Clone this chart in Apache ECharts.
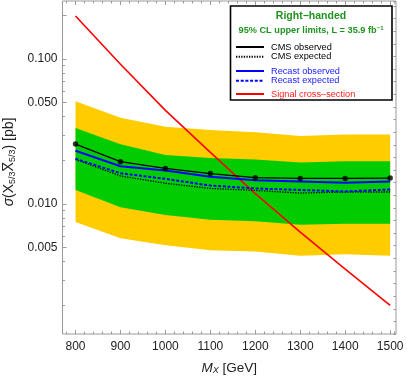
<!DOCTYPE html>
<html>
<head>
<meta charset="utf-8">
<script src="https://cdn.jsdelivr.net/npm/echarts@6/dist/echarts.min.js"></script>
<style>html,body{margin:0;padding:0;background:#fff}#c{width:407px;height:377px}</style>
</head>
<body>
<div id="c"></div>
<script>
// ---- data ----
const mass = [800, 900, 1000, 1100, 1200, 1300, 1400, 1500];
const cmsObserved = [0.0259, 0.0196, 0.0176, 0.0162, 0.0152, 0.0150, 0.0150, 0.0151];
const cmsExpected = [0.0203, 0.0156, 0.0139, 0.0128, 0.0124, 0.0119, 0.0121, 0.0121];
const recastObserved = [0.0233, 0.0182, 0.0170, 0.0154, 0.0146, 0.0143, 0.0140, 0.0143];
const recastExpected = [0.0205, 0.0163, 0.0149, 0.0134, 0.0128, 0.0125, 0.0122, 0.0126];
const yellowUp = [0.0511, 0.0394, 0.0341, 0.0324, 0.0312, 0.0294, 0.0301, 0.0301];
const greenUp = [0.0334, 0.0258, 0.0218, 0.0208, 0.0203, 0.0193, 0.0197, 0.0197];
const greenLow = [0.0125, 0.0095, 0.0084, 0.0078, 0.0076, 0.0072, 0.0073, 0.0073];
const yellowLow = [0.0075, 0.0058, 0.0052, 0.0048, 0.0047, 0.0044, 0.0045, 0.0044];
const signal = [0.198, 0.092, 0.0442, 0.0227, 0.0118, 0.0064, 0.00355, 0.00200];

const xTickLabels = [800, 900, 1000, 1100, 1200, 1300, 1400, 1500];
const xMinorTicks = [780, 820, 840, 860, 880, 920, 940, 960, 980, 1020, 1040, 1060, 1080, 1120, 1140, 1160, 1180,
  1220, 1240, 1260, 1280, 1320, 1340, 1360, 1380, 1420, 1440, 1460, 1480, 1510];
const yTickLabels = [0.005, 0.01, 0.05, 0.1];
const yMajorTicks = [0.005, 0.01, 0.05, 0.1, 0.2];
const yMinorTicks = [0.002, 0.003, 0.004, 0.006, 0.007, 0.008, 0.009, 0.02, 0.03, 0.04, 0.06, 0.07, 0.08, 0.09];

const X_MIN = 771, X_MAX = 1513;
const Y_MIN = 0.001269, Y_MAX = 0.2512;

const pairs = (ys) => mass.map((m, i) => [m, ys[i]]);

const axisGray = '#9a9a9a';
const FONT = 'Liberation Sans';

const chart = echarts.init(document.getElementById('c'), null, {renderer: 'canvas'});

// band drawn as one polygon through the chart's own coordinate system
function bandSeries(name, low, up, color, z) {
  return {
    name: name, type: 'custom', z: z, silent: true,
    data: mass.map((m, i) => [m, low[i], up[i]]),
    encode: {x: 0, y: [1, 2]},
    renderItem: function (params, api) {
      if (params.dataIndex !== 0) return null;
      const pts = [];
      for (let i = 0; i < mass.length; i++) pts.push(api.coord([mass[i], up[i]]));
      for (let i = mass.length - 1; i >= 0; i--) pts.push(api.coord([mass[i], low[i]]));
      return {type: 'polygon', shape: {points: pts}, style: {fill: color, stroke: null}};
    }
  };
}

const legendBase = {orient: 'vertical', itemWidth: 28, itemHeight: 10, itemGap: 0.8, padding: 0,
  selectedMode: false, z: 20, itemStyle: {opacity: 0, borderWidth: 0}};

const option = {
  animation: false,
  textStyle: {fontFamily: FONT},
  grid: {left: 62.5, right: 11, top: 1, bottom: 43, show: true, borderColor: axisGray, borderWidth: 1,
    backgroundColor: 'transparent', containLabel: false, outerBoundsMode: 'none'},
  xAxis: [
    {type: 'value', min: X_MIN, max: X_MAX, position: 'bottom',
      axisLine: {show: false}, splitLine: {show: false},
      axisTick: {inside: true, length: 4, lineStyle: {color: axisGray}, customValues: xTickLabels},
      axisLabel: {customValues: xTickLabels, margin: 7, fontSize: 12, color: '#222', fontFamily: FONT,
        formatter: (v) => String(v)},
      name: '{i|M}{s|X} [GeV]', nameLocation: 'middle', nameGap: 27,
      nameTextStyle: {fontSize: 13.5, color: '#222', fontFamily: FONT,
        rich: {i: {fontStyle: 'italic', fontSize: 13.5, fontFamily: FONT, color: '#222'},
               s: {fontStyle: 'italic', fontSize: 9, fontFamily: FONT, color: '#222', verticalAlign: 'bottom', lineHeight: 9}}}},
    {type: 'value', min: X_MIN, max: X_MAX, position: 'bottom', axisLine: {show: false}, splitLine: {show: false},
      axisLabel: {show: false},
      axisTick: {inside: true, length: 2.5, lineStyle: {color: axisGray}, customValues: xMinorTicks}},
    {type: 'value', min: X_MIN, max: X_MAX, position: 'top', axisLine: {show: false}, splitLine: {show: false},
      axisLabel: {show: false},
      axisTick: {inside: true, length: 4, lineStyle: {color: axisGray}, customValues: xTickLabels}},
    {type: 'value', min: X_MIN, max: X_MAX, position: 'top', axisLine: {show: false}, splitLine: {show: false},
      axisLabel: {show: false},
      axisTick: {inside: true, length: 2.5, lineStyle: {color: axisGray}, customValues: xMinorTicks}}
  ],
  yAxis: [
    {type: 'log', logBase: 10, min: Y_MIN, max: Y_MAX, position: 'left',
      axisLine: {show: false}, splitLine: {show: false},
      axisTick: {inside: true, length: 4, lineStyle: {color: axisGray}, customValues: yMajorTicks},
      axisLabel: {customValues: yTickLabels, margin: 5, fontSize: 12, color: '#222', fontFamily: FONT,
        formatter: (v) => Number(v).toFixed(3)},
      name: '{i|σ}(X{s|5/3}X\u0305{s|5/3}) [pb]', nameLocation: 'middle', nameGap: 41, nameRotate: 90,
      nameTextStyle: {fontSize: 14, color: '#222', fontFamily: FONT, padding: [0, 0, 0, 11],
        rich: {i: {fontStyle: 'italic', fontSize: 14, fontFamily: FONT, color: '#222'},
               s: {fontSize: 9, fontFamily: FONT, color: '#222', verticalAlign: 'bottom', lineHeight: 9}}}},
    {type: 'log', logBase: 10, min: Y_MIN, max: Y_MAX, position: 'left',
      axisLine: {show: false}, splitLine: {show: false}, axisLabel: {show: false},
      axisTick: {inside: true, length: 2.5, lineStyle: {color: axisGray}, customValues: yMinorTicks}},
    {type: 'value', min: 0, max: 26.4, interval: 1, position: 'right',
      axisLine: {show: false}, splitLine: {show: false}, axisLabel: {show: false},
      axisTick: {inside: true, length: 2.5, lineStyle: {color: axisGray}}}
  ],
  legend: [
    Object.assign({}, legendBase, {left: 235, top: 42.5,
      textStyle: {fontSize: 9.2, color: '#000', fontFamily: FONT, padding: [0, 0, 0, 2]},
      data: ['CMS observed', 'CMS expected']}),
    Object.assign({}, legendBase, {left: 235, top: 66.5,
      textStyle: {fontSize: 9.2, color: '#2020ff', fontFamily: FONT, padding: [0, 0, 0, 2]},
      data: ['Recast observed', 'Recast expected']}),
    Object.assign({}, legendBase, {left: 235, top: 89.5,
      textStyle: {fontSize: 9.2, color: '#ff2020', fontFamily: FONT, padding: [0, 0, 0, 2]},
      data: ['Signal cross\u2013section']})
  ],
  graphic: [
    {type: 'rect', shape: {x: 230.5, y: 6, width: 161.5, height: 94}, z: 10,
      style: {fill: '#fff', stroke: '#000', lineWidth: 1.6}},
    {type: 'text', x: 311, y: 16, z: 11,
      style: {text: 'Right\u2212handed', align: 'center', verticalAlign: 'middle',
        font: 'bold 10.5px "Liberation Sans"', fill: '#1f931f'}},
    {type: 'text', x: 311, y: 30, z: 11,
      style: {text: '95% CL upper limits, L = 35.9 fb{u|\u22121}', align: 'center', verticalAlign: 'middle',
        font: 'bold 9.2px "Liberation Sans"', fill: '#1f931f',
        rich: {u: {font: 'bold 6px "Liberation Sans"', fill: '#1f931f', verticalAlign: 'top', lineHeight: 6}}}}
  ],
  series: [
    bandSeries('band95', yellowLow, yellowUp, '#ffcc00', 1),
    bandSeries('band68', greenLow, greenUp, '#00cc00', 1),
    {name: 'Signal cross\u2013section', type: 'line', data: pairs(signal), symbol: 'none', z: 3,
      lineStyle: {color: '#ff0000', width: 1.6}, itemStyle: {color: '#ff0000'}},
    {name: 'CMS expected', type: 'line', data: pairs(cmsExpected), symbol: 'none', z: 4,
      lineStyle: {color: '#000', width: 1.3, type: [1.3, 1.3]}, itemStyle: {color: '#000'}},
    {name: 'Recast expected', type: 'line', data: pairs(recastExpected), symbol: 'none', z: 4,
      lineStyle: {color: '#0000ff', width: 2, type: [3, 1.7]}, itemStyle: {color: '#0000ff'}},
    {name: 'Recast observed', type: 'line', data: pairs(recastObserved), symbol: 'none', z: 5,
      lineStyle: {color: '#0000ff', width: 2}, itemStyle: {color: '#0000ff'}},
    {name: 'CMS observed', type: 'line', data: pairs(cmsObserved), symbol: 'none', z: 6,
      lineStyle: {color: '#000', width: 1.3}, itemStyle: {color: '#000'}},
    {name: 'cmsObsPoints', type: 'scatter', data: pairs(cmsObserved), symbol: 'circle', symbolSize: 5.5, z: 7,
      itemStyle: {color: '#000'}}
  ]
};
chart.setOption(option);
</script>
</body>
</html>
